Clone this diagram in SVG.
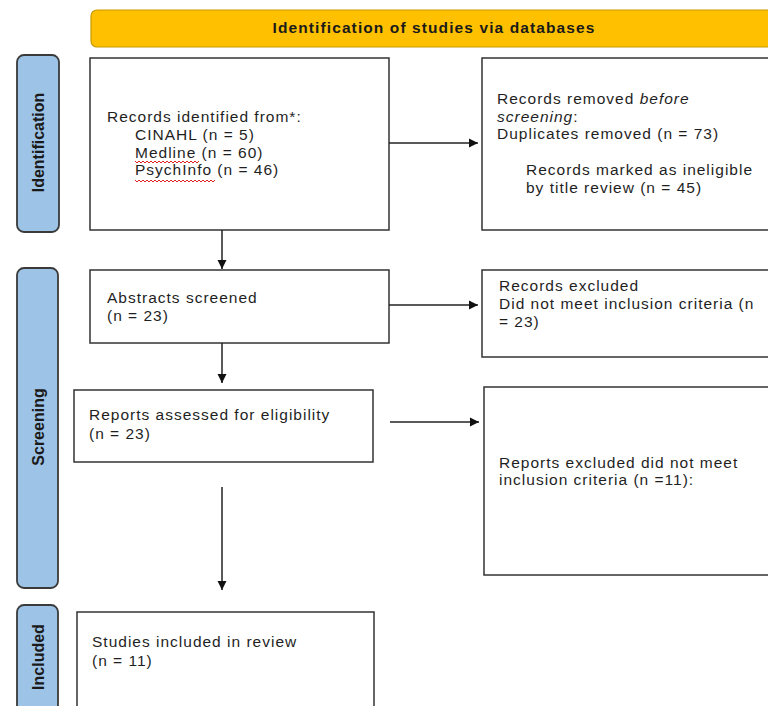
<svg xmlns="http://www.w3.org/2000/svg" width="768" height="706" viewBox="0 0 768 706">
<style>
.bg{fill:#ffffff}
.box{fill:#ffffff;stroke:#333333;stroke-width:1.5}
.lane{fill:#9DC3E6;stroke:#3a3a3a;stroke-width:1.8}
.hdr{fill:#FFC000;stroke:#C99A00;stroke-width:1.2}
.t{font-family:"Liberation Sans",Arial,sans-serif;font-size:15.5px;letter-spacing:1px;fill:#1f1f1f}
.h{font-family:"Liberation Sans",Arial,sans-serif;font-size:15.5px;font-weight:bold;letter-spacing:1.1px;fill:#1a1a1a}
.v{font-family:"Liberation Sans",Arial,sans-serif;font-size:16px;font-weight:bold;fill:#1a1a1a}
.c{stroke:#222222;stroke-width:1.5;fill:none}
.sq{stroke:#e02020;stroke-width:1;fill:none}
</style>
<defs>
<marker id="ah" markerWidth="10" markerHeight="10" refX="9" refY="5" orient="auto" markerUnits="userSpaceOnUse">
<path d="M0,0.5 L9,5 L0,9.5 Z" fill="#111111"/>
</marker>
</defs>
<rect class="bg" x="0" y="0" width="768" height="706"/>

<g id="header">
<rect class="hdr" x="91" y="10" width="690" height="37" rx="6"/>
<text class="h" x="434" y="33" text-anchor="middle">Identification of studies via databases</text>
</g>

<g id="lane-identification">
<rect class="lane" x="17" y="55" width="42" height="177" rx="7"/>
<text class="v" transform="translate(44,142.5) rotate(-90)" text-anchor="middle">Identification</text>
</g>
<g id="lane-screening">
<rect class="lane" x="17" y="268" width="41" height="320" rx="7"/>
<text class="v" transform="translate(44,427) rotate(-90)" text-anchor="middle">Screening</text>
</g>
<g id="lane-included">
<rect class="lane" x="17" y="605" width="41" height="120" rx="7"/>
<text class="v" transform="translate(44,657) rotate(-90)" text-anchor="middle">Included</text>
</g>

<g id="records-identified">
<rect class="box" x="90" y="58" width="299" height="172"/>
<text class="t" x="107" y="122">Records identified from*:</text>
<text class="t" x="135" y="140">CINAHL (n = 5)</text>
<text class="t" x="135" y="158">Medline (n = 60)</text>
<text class="t" x="135" y="175">PsychInfo (n = 46)</text>
<polyline class="sq" points="135,161 137,163 139,161 141,163 143,161 145,163 147,161 149,163 151,161 153,163 155,161 157,163 159,161 161,163 163,161 165,163 167,161 169,163 171,161 173,163 175,161 177,163 179,161 181,163 183,161 185,163 187,161 189,163 191,161 193,163 195,161 197,163 199,161"/>
<polyline class="sq" points="135,180 137,182 139,180 141,182 143,180 145,182 147,180 149,182 151,180 153,182 155,180 157,182 159,180 161,182 163,180 165,182 167,180 169,182 171,180 173,182 175,180 177,182 179,180 181,182 183,180 185,182 187,180 189,182 191,180 193,182 195,180 197,182 199,180 201,182 203,180 205,182 207,180 209,182 211,180 213,182 215,180"/>
</g>

<g id="records-removed">
<rect class="box" x="482" y="58" width="300" height="172"/>
<text class="t" x="497" y="104">Records removed <tspan font-style="italic">before</tspan></text>
<text class="t" x="497" y="122"><tspan font-style="italic">screening</tspan>:</text>
<text class="t" x="497" y="139">Duplicates removed (n = 73)</text>
<text class="t" x="526" y="175">Records marked as ineligible</text>
<text class="t" x="526" y="193">by title review (n = 45)</text>
</g>

<g id="abstracts-screened">
<rect class="box" x="90" y="270" width="299" height="73"/>
<text class="t" x="107" y="303">Abstracts screened</text>
<text class="t" x="107" y="321">(n = 23)</text>
</g>

<g id="records-excluded">
<rect class="box" x="482" y="270" width="300" height="87"/>
<text class="t" x="499" y="291">Records excluded</text>
<text class="t" x="499" y="309">Did not meet inclusion criteria (n</text>
<text class="t" x="499" y="327">= 23)</text>
</g>

<g id="reports-assessed">
<rect class="box" x="74" y="390" width="299" height="72"/>
<text class="t" x="89" y="420">Reports assessed for eligibility</text>
<text class="t" x="89" y="439">(n = 23)</text>
</g>

<g id="reports-excluded">
<rect class="box" x="484" y="387" width="300" height="188"/>
<text class="t" x="499" y="468">Reports excluded did not meet</text>
<text class="t" x="499" y="485">inclusion criteria (n =11):</text>
</g>

<g id="studies-included">
<rect class="box" x="77" y="612" width="297" height="110"/>
<text class="t" x="92" y="647">Studies included in review</text>
<text class="t" x="92" y="666">(n = 11)</text>
</g>

<g id="connectors">
<line class="c" x1="389" y1="143" x2="478" y2="143" marker-end="url(#ah)"/>
<line class="c" x1="222" y1="230" x2="222" y2="269" marker-end="url(#ah)"/>
<line class="c" x1="389" y1="305" x2="478" y2="305" marker-end="url(#ah)"/>
<line class="c" x1="222" y1="343" x2="222" y2="383" marker-end="url(#ah)"/>
<line class="c" x1="390" y1="422" x2="479" y2="422" marker-end="url(#ah)"/>
<line class="c" x1="222" y1="487" x2="222" y2="590" marker-end="url(#ah)"/>
</g>
</svg>
